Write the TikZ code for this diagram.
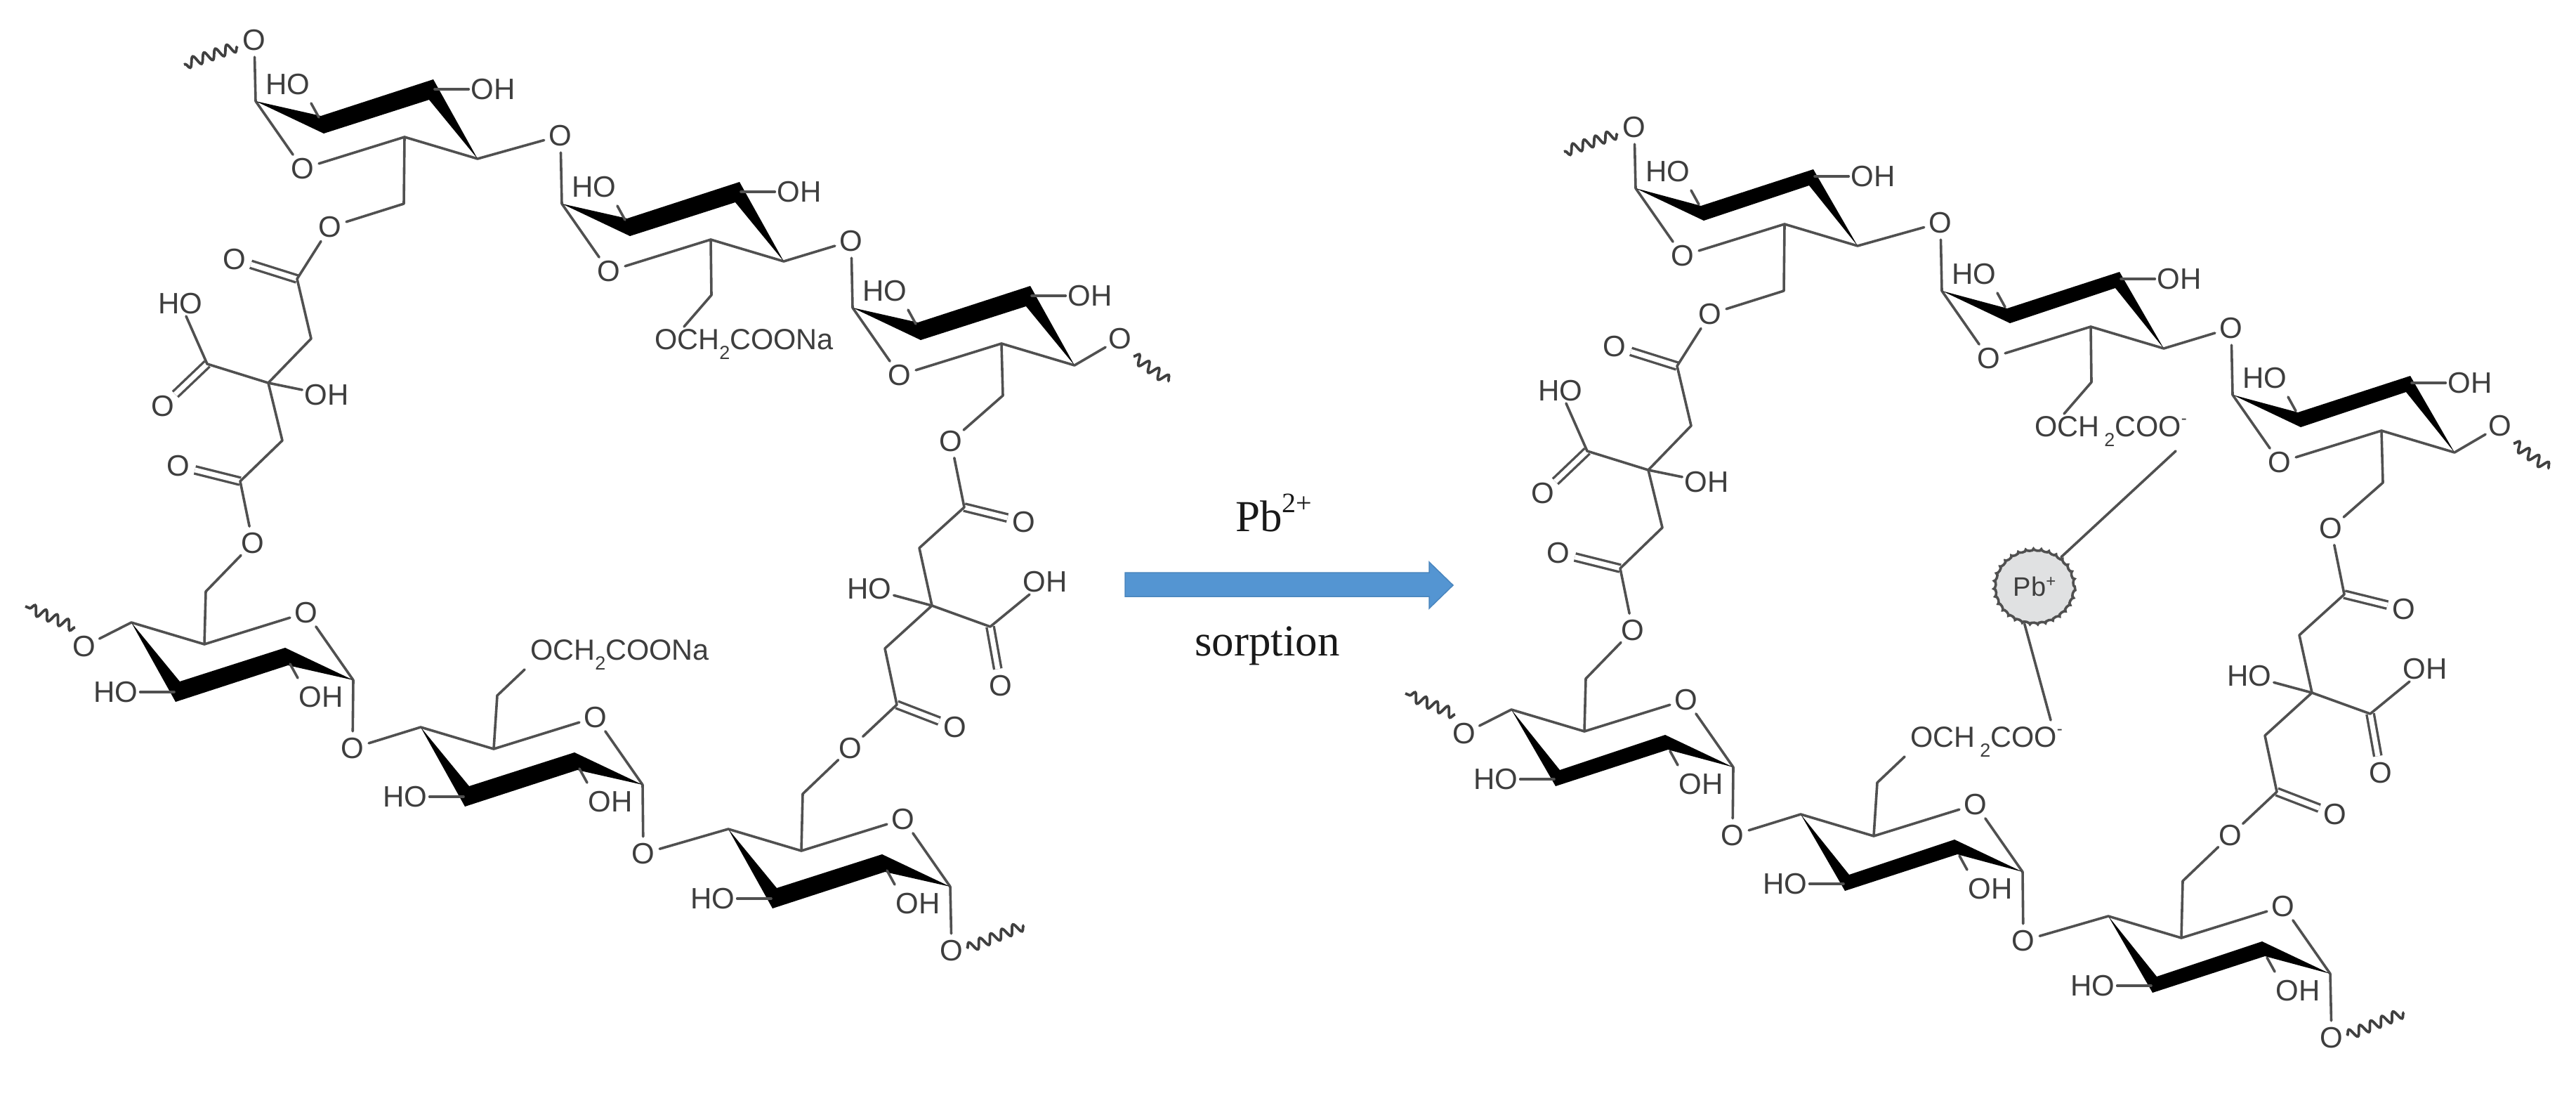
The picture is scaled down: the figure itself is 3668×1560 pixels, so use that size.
\documentclass[tikz,border=0pt]{standalone}
\usepackage{fontspec}
\usetikzlibrary{shapes.geometric,decorations.pathmorphing}
\newfontfamily\chemfont{Liberation Sans}
\newfontfamily\capfont{Liberation Serif}
\definecolor{bondc}{HTML}{505050}
\definecolor{txtc}{HTML}{3E3E3E}
\definecolor{arrowc}{HTML}{5495D2}
\definecolor{arrowe}{HTML}{4A86BE}
\definecolor{pbfill}{HTML}{E0E1E2}
\tikzset{
  bond/.style={line width=3.6pt,draw=bondc,line cap=round,line join=round},
  dbl/.style={line width=3.4pt,draw=bondc,double=white,double distance=7pt},
  wig/.style={line width=3.8pt,draw=black!75,decorate,decoration={snake,segment length=17pt,amplitude=7pt}},
  atom/.style={circle,minimum size=48pt,inner sep=0pt,text=txtc,font=\chemfont\fontsize{42}{42}\selectfont},
  lab/.style={inner sep=3pt,text=txtc,font=\chemfont\fontsize{42}{42}\selectfont},
  chaintext/.style={inner sep=0pt,anchor=west,text=txtc,font=\chemfont\fontsize{41.5}{42}\selectfont},
  captext/.style={inner sep=0pt,anchor=base west,text=black!90,font=\capfont\fontsize{63}{63}\selectfont},
  pbnode/.style={ellipse,minimum width=114pt,minimum height=106pt,inner sep=0pt,draw=bondc,line width=3.6pt,fill=pbfill,
    decorate,decoration={bumps,segment length=22pt,amplitude=2pt},text=txtc,font=\chemfont\fontsize{38}{38}\selectfont},
}
\newcommand{\subtwo}{\raisebox{-0.36em}{\fontsize{27}{27}\selectfont 2}}
% name, x, y, direction, label at C2, label at C3
\newcommand{\sugar}[6]{%
\begin{scope}[shift={(#2,#3)},xscale=#4,yscale=#4]
  \coordinate (#1c1) at (0,0);
  \coordinate (#1c2) at (90,23);
  \coordinate (#1c2e) at (79,3);
  \coordinate (#1c3) at (255,-17);
  \coordinate (#1c4) at (316,82);
  \coordinate (#1c5) at (212,51);
  \node[atom] (#1o) at (67,96) {O};
  \node[lab] (#1a) at (46,-24) {#5};
  \node[lab] (#1b) at (338,-17) {#6};
  \draw[bond] (#1c1) -- (#1o) -- (#1c5) -- (#1c4);
  \fill[black] (0,0) -- (93,{21+\tw}) -- (253,{-31+\tw}) -- (316,82) -- (247,{-2-0.5*\tw}) -- (97,46) -- cycle;
  \draw[bond] (#1c2) -- (#1c2e);
  \draw[bond] (#1c3) -- (#1b);
\end{scope}}
% prefix, dx, dy, band tweak, upper chain text, lower chain text
\newcommand{\molecule}[6]{%
\def\tw{#4}%
\begin{scope}[shift={(#2,#3)}]
  \sugar{#1A}{364}{144}{1}{HO}{OH}
  \sugar{#1B}{800}{290}{1}{HO}{OH}
  \sugar{#1C}{1214}{438}{1}{HO}{OH}
  \sugar{#1D}{503}{968}{-1}{OH}{HO}
  \sugar{#1E}{915}{1117}{-1}{OH}{HO}
  \sugar{#1F}{1353}{1262}{-1}{OH}{HO}
  % glycosidic oxygens
  \node[atom] (#1Oa) at (362,57) {O};
  \node[atom] (#1Ob) at (798,193) {O};
  \node[atom] (#1Oc) at (1212,343) {O};
  \node[atom] (#1Od) at (1595,482) {O};
  \node[atom] (#1Oe) at (502,1065) {O};
  \node[atom] (#1Of) at (916,1215) {O};
  \node[atom] (#1Og) at (1355,1353) {O};
  \node[atom] (#1Oh) at (120,920) {O};
  \draw[bond] (#1Ac1) -- (#1Oa);
  \draw[bond] (#1Ac4) -- (#1Ob) -- (#1Bc1);
  \draw[bond] (#1Bc4) -- (#1Oc) -- (#1Cc1);
  \draw[bond] (#1Cc4) -- (#1Od);
  \draw[bond] (#1Dc1) -- (#1Oe) -- (#1Ec4);
  \draw[bond] (#1Ec1) -- (#1Of) -- (#1Fc4);
  \draw[bond] (#1Fc1) -- (#1Og);
  \draw[bond] (#1Dc4) -- (#1Oh);
  % chain ends
  \coordinate (#1wa1) at (338,66);  \coordinate (#1wa2) at (262,92);
  \coordinate (#1wd1) at (1614,507); \coordinate (#1wd2) at (1665,543);
  \coordinate (#1wg1) at (1377,1350); \coordinate (#1wg2) at (1458,1317);
  \coordinate (#1wh1) at (107,893); \coordinate (#1wh2) at (36,863);
  \draw[wig] (#1wa1) -- (#1wa2);
  \draw[wig] (#1wd1) -- (#1wd2);
  \draw[wig] (#1wg1) -- (#1wg2);
  \draw[wig] (#1wh1) -- (#1wh2);
  % carboxymethyl groups
  \coordinate (#1chb) at (1013,420);
  \coordinate (#1che) at (708,990);
  \node[chaintext] (#1tb) at (932,490) {#5};
  \node[chaintext] (#1te) at (755,932) {#6};
  \coordinate (#1tbe) at (974,465);
  \coordinate (#1tee) at (747,953);
  \draw[bond] (#1Bc5) -- (#1chb) -- (#1tbe);
  \draw[bond] (#1Ec5) -- (#1che) -- (#1tee);
  % left citrate linker
  \coordinate (#1ch1) at (575,290);
  \node[atom] (#1e1) at (470,323) {O};
  \coordinate (#1k1) at (423,397);
  \node[atom] (#1q1) at (334,369) {O};
  \coordinate (#1m1) at (443,482);
  \coordinate (#1z1) at (382,545);
  \coordinate (#1k2) at (295,518);
  \node[lab] (#1h1) at (257,432) {HO};
  \node[atom] (#1q2) at (232,578) {O};
  \node[lab] (#1h2) at (465,562) {OH};
  \coordinate (#1m2) at (402,627);
  \coordinate (#1k3) at (342,685);
  \node[atom] (#1q3) at (254,663) {O};
  \node[atom] (#1e2) at (360,773) {O};
  \coordinate (#1ch2) at (293,842);
  \draw[dbl] (#1k1) -- (#1q1);
  \draw[dbl] (#1k2) -- (#1q2);
  \draw[dbl] (#1k3) -- (#1q3);
  \draw[bond] (#1Ac5) -- (#1ch1) -- (#1e1) -- (#1k1) -- (#1m1) -- (#1z1) -- (#1k2) -- (#1h1);
  \draw[bond] (#1z1) -- (#1h2);
  \draw[bond] (#1z1) -- (#1m2) -- (#1k3) -- (#1e2) -- (#1ch2) -- (#1Dc5);
  % right citrate linker
  \coordinate (#1ch3) at (1428,563);
  \node[atom] (#1e3) at (1354,628) {O};
  \coordinate (#1k4) at (1373,722);
  \node[atom] (#1q4) at (1458,743) {O};
  \coordinate (#1m3) at (1309,780);
  \coordinate (#1z2) at (1327,862);
  \node[lab] (#1h3) at (1238,838) {HO};
  \coordinate (#1k5) at (1410,892);
  \node[lab] (#1h4) at (1488,828) {OH};
  \node[atom] (#1q5) at (1425,976) {O};
  \coordinate (#1m4) at (1260,923);
  \coordinate (#1k6) at (1277,1003);
  \node[atom] (#1q6) at (1360,1035) {O};
  \node[atom] (#1e4) at (1211,1065) {O};
  \coordinate (#1ch4) at (1143,1130);
  \draw[dbl] (#1k4) -- (#1q4);
  \draw[dbl] (#1k5) -- (#1q5);
  \draw[dbl] (#1k6) -- (#1q6);
  \draw[bond] (#1Cc5) -- (#1ch3) -- (#1e3) -- (#1k4) -- (#1m3) -- (#1z2) -- (#1k5) -- (#1h4);
  \draw[bond] (#1z2) -- (#1h3);
  \draw[bond] (#1z2) -- (#1m4) -- (#1k6) -- (#1e4) -- (#1ch4) -- (#1Fc5);
\end{scope}}
\begin{document}
\begin{tikzpicture}[x=1pt,y=-1pt]
  \useasboundingbox (0,0) rectangle (3668,1560);
  \molecule{L}{0}{0}{0}{OCH\subtwo COONa}{OCH\subtwo COONa}
  \molecule{R}{1965}{124}{4}{OCH\,\subtwo COO\raisebox{0.42em}{\fontsize{24}{24}\selectfont -}}{OCH\,\subtwo COO\raisebox{0.42em}{\fontsize{24}{24}\selectfont -}}
  % reaction arrow
  \fill[arrowc,draw=arrowe,line width=1.5pt,line join=miter]
    (1602,815) -- (2035,815) -- (2035,800) -- (2069,833) -- (2035,866) -- (2035,849) -- (1602,849) -- cycle;
  \node[captext] (pbion) at (1759,756) {Pb\raisebox{0.42em}{\fontsize{40}{40}\selectfont 2+}};
  \node[captext] (sorp) at (1701,933) {sorption};
  % lead ion
  \node[pbnode] (pb) at (2897,835) {Pb\raisebox{0.35em}{\fontsize{24}{24}\selectfont +}};
  \coordinate (pbt) at (3098,642);
  \coordinate (pbb) at (2920,1025);
  \draw[bond] (pb.48) -- (pbt);
  \draw[bond] (pb.255) -- (pbb);
\end{tikzpicture}
\end{document}
